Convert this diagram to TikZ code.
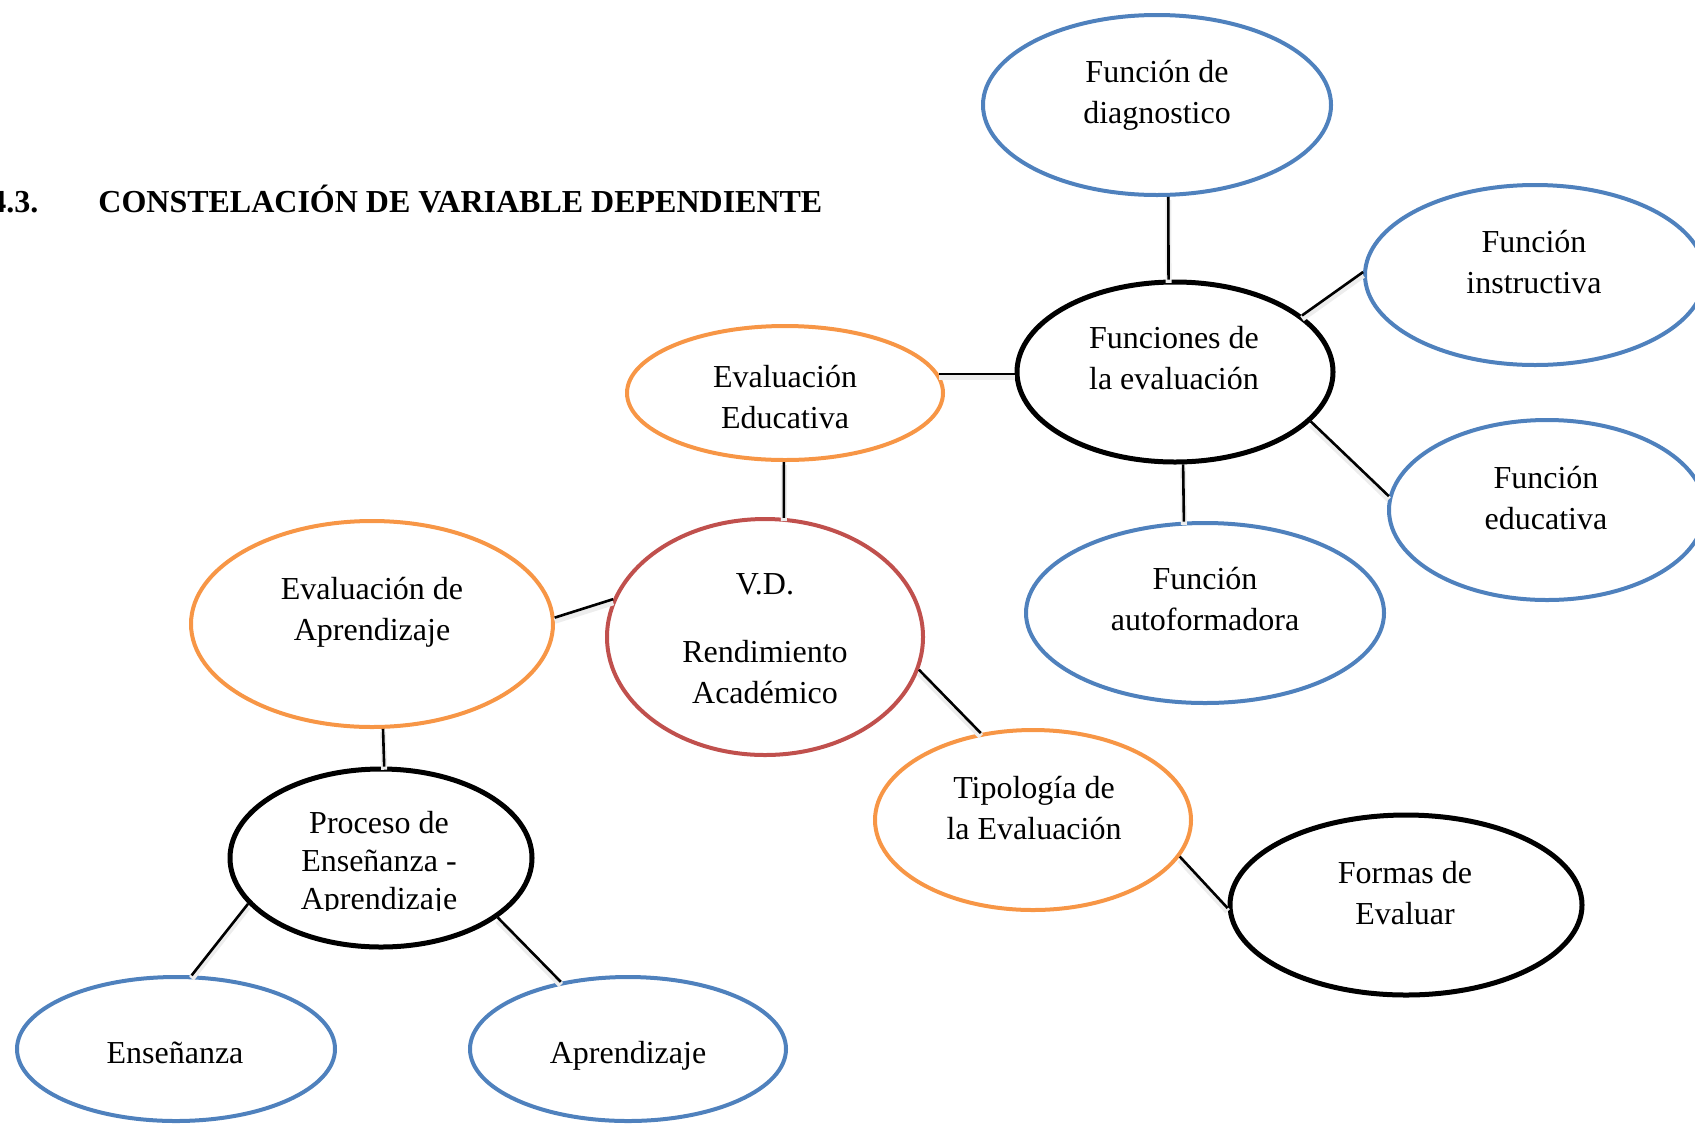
\documentclass[tikz,border=0pt]{standalone}
\usepackage{fontspec}
\setmainfont{Liberation Serif}
\usetikzlibrary{shapes.geometric}

\definecolor{ellblue}{HTML}{4F81BD}
\definecolor{ellorange}{HTML}{F79646}
\definecolor{ellred}{HTML}{C0504D}

\begin{document}
\begin{tikzpicture}[x=0.5pt,y=-0.5pt,
  bubble/.style={ellipse, draw, line width=2pt, inner sep=0pt},
  sz/.style 2 args={minimum width=#1pt, minimum height=#2pt},
  bluebub/.style={bubble, draw=ellblue},
  orangebub/.style={bubble, draw=ellorange},
  redbub/.style={bubble, draw=ellred},
  blackbub/.style={bubble, draw=black, line width=2.5pt},
  lbl/.style={font=\fontsize{16}{20.5}\selectfont, align=center, inner sep=0pt},
  link/.style={line width=1.3pt, preaction={draw, black!7, line width=3pt, transform canvas={yshift=-1.6pt}}}
]
\useasboundingbox (0,0) rectangle (1695,1125);
\clip (0,0) rectangle (1695,1125);

% heading
\node[anchor=base west, inner sep=0pt] (num) at (-10,212)
  {\fontsize{16}{16}\selectfont\bfseries 4.3.};
\node[anchor=base west, inner sep=0pt] (title) at (98,212)
  {\fontsize{16}{16}\selectfont\bfseries CONSTELACIÓN DE VARIABLE DEPENDIENTE};

% bubbles
\node[bluebub, sz={174}{90}]   (diag)   at (1157,105) {};
\node[bluebub, sz={170}{90}]   (instr)  at (1535,275) {};
\node[bluebub, sz={158}{90}]   (educ)   at (1547,510) {};
\node[blackbub, sz={158}{90}]  (funcs)  at (1175,372) {};
\node[bluebub, sz={179}{90}]   (autof)  at (1205,613) {};
\node[orangebub, sz={158}{67}] (evaled) at (785,393) {};
\node[redbub, sz={158}{118}]   (vd)     at (765,637) {};
\node[orangebub, sz={181}{103}](evalap) at (372,624) {};
\node[blackbub, sz={151}{89}]  (proc)   at (381,858) {};
\node[orangebub, sz={158}{90}] (tipo)   at (1033,820) {};
\node[blackbub, sz={176}{90}]  (formas) at (1406,905) {};
\node[bluebub, sz={159}{72}]   (ens)    at (176,1049) {};
\node[bluebub, sz={158}{72}]   (apr)    at (628,1049) {};

% texts
\node[lbl] (tdiag)   at (1157,95)  {Función de\\diagnostico};
\node[lbl] (tinstr)  at (1534,262) {Función\\instructiva};
\node[lbl] (teduc)   at (1546,498) {Función\\educativa};
\node[lbl] (tfuncs)  at (1174,358) {Funciones de\\la evaluación};
\node[lbl] (tautof)  at (1205,599) {Función\\autoformadora};
\node[lbl] (tevaled) at (785,397)  {Evaluación\\Educativa};
\node[lbl] (tvd)     at (765,639)  {V.D.\\[13.5pt]Rendimiento\\Académico};
\node[lbl] (tevalap) at (372,612)  {Evaluación de\\Aprendizaje};
\begin{scope}
  \clip (200,780) rectangle (560,910);
  \node[lbl, font=\fontsize{16}{19}\selectfont] (tproc) at (379,864)
    {Proceso de\\Enseñanza -\\Aprendizaje};
\end{scope}
\node[lbl] (ttipo)   at (1034,808) {Tipología de\\la Evaluación};
\node[lbl] (tformas) at (1405,893) {Formas de\\Evaluar};
\node[lbl, anchor=base] (tens) at (175,1063) {Enseñanza};
\node[lbl, anchor=base] (tapr) at (628,1063) {Aprendizaje};

% connectors
\draw[link] (diag.277)   -- (funcs.94);
\draw[link] (funcs.24)   -- (instr.179);
\draw[link] (funcs.340)  -- (educ.175);
\draw[link] (funcs.275)  -- (autof.103);
\draw[link] (evaled.7.85) -- (evaled.7.85 -| funcs.west);
\draw[link] (evaled.269) -- (vd.81);
\draw[link] (vd.166.5)   -- (evalap.2);
\draw[link] (vd.348)     -- (tipo.121);
\draw[link] (evalap.276.5) -- (proc.88);
\draw[link] (proc.199)   -- (ens.78.5);
\draw[link] (proc.333)   -- (apr.135);
\draw[link] (tipo.346)   -- (formas.181.6);
\end{tikzpicture}
\end{document}
